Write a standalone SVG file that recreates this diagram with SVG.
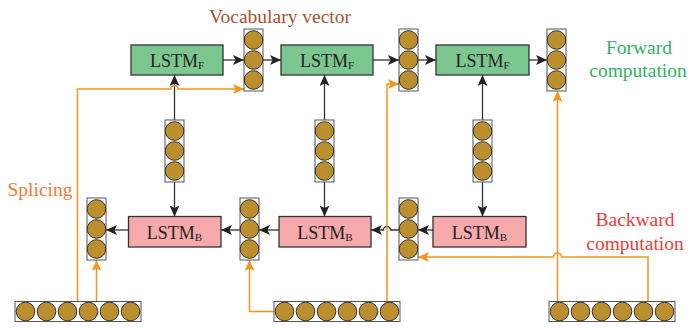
<svg xmlns="http://www.w3.org/2000/svg" width="688" height="329" viewBox="0 0 688 329">
  <style>
    .fwd { fill: #7cc68f; stroke: #333; stroke-width: 1.3; }
    .bwd { fill: #f5a9ab; stroke: #333; stroke-width: 1.3; }
    .vec { fill: #fff; stroke: #555; stroke-width: 1; }
    .dot { fill: #bb8e2e; stroke: #333; stroke-width: 1; }
    text { font-family: 'Liberation Serif', 'DejaVu Serif', serif; }
    .lbl { font-size: 18px; fill: #222; text-anchor: middle; }
    .sub { font-size: 11px; }
    .cap { font-size: 19.5px; text-anchor: middle; }
    .blk { fill: none; stroke: #333; stroke-width: 1.3; marker-end: url(#ab); }
    .org { fill: none; stroke: #f7941d; stroke-width: 1.5; }
    .orgA { marker-end: url(#ao); }
  </style>
  <defs>
    <marker id="ab" markerUnits="userSpaceOnUse" markerWidth="11" markerHeight="10" viewBox="0 0 11 10" refX="11" refY="5" orient="auto">
      <path d="M0,0 L11,5 L0,10 L2.5,5 z" fill="#222"/>
    </marker>
    <marker id="ao" markerUnits="userSpaceOnUse" markerWidth="11" markerHeight="10" viewBox="0 0 11 10" refX="11" refY="5" orient="auto">
      <path d="M0,0 L11,5 L0,10 L2.5,5 z" fill="#f7941d"/>
    </marker>
    <!-- three-cell vertical vector -->
    <g id="v3">
      <rect class="vec" x="0" y="0" width="19" height="62"/>
      <circle class="dot" cx="9.5" cy="11" r="9.3"/>
      <circle class="dot" cx="9.5" cy="31" r="9.3"/>
      <circle class="dot" cx="9.5" cy="51" r="9.3"/>
    </g>
    <!-- six-cell horizontal word vector -->
    <g id="h6">
      <rect class="vec" x="0" y="0" width="126" height="20"/>
      <circle class="dot" cx="10.5" cy="10" r="9.3"/>
      <circle class="dot" cx="31.5" cy="10" r="9.3"/>
      <circle class="dot" cx="52.5" cy="10" r="9.3"/>
      <circle class="dot" cx="73.5" cy="10" r="9.3"/>
      <circle class="dot" cx="94.5" cy="10" r="9.3"/>
      <circle class="dot" cx="115.5" cy="10" r="9.3"/>
    </g>
  </defs>

  <rect width="688" height="329" fill="#fff"/>

  <!-- connectors -->
  <g id="connectors">
    <!-- forward chain -->
    <path class="blk" d="M223,60 H244"/>
    <path class="blk" d="M263,60 H281"/>
    <path class="blk" d="M373,60 H399"/>
    <path class="blk" d="M418,60 H436"/>
    <path class="blk" d="M529,60 H547"/>
    <!-- middle vectors to forward / backward cells -->
    <path class="blk" d="M174.5,120 V75"/>
    <path class="blk" d="M174.5,182 V216.5"/>
    <path class="blk" d="M324.5,120 V75"/>
    <path class="blk" d="M324.5,182 V216.5"/>
    <path class="blk" d="M482.5,120 V75"/>
    <path class="blk" d="M482.5,182 V216.5"/>
    <!-- backward chain -->
    <path class="blk" d="M433,230 H418"/>
    <path class="blk" d="M399,230 H390.5 A3.5,3.5 0 0 0 383.5,230 H371"/>
    <path class="blk" d="M279,230 H259"/>
    <path class="blk" d="M240,230 H221"/>
    <path class="blk" d="M128.5,230 H106"/>
    <!-- splicing paths from word vectors -->
    <path class="org orgA" d="M77.5,302 V89 H171 A3.5,3.5 0 0 1 178,89 H244"/>
    <path class="org orgA" d="M96.5,302 V260"/>
    <path class="org orgA" d="M274,311.5 H249.5 V260"/>
    <path class="org orgA" d="M387,302 V84 H399"/>
    <path class="org orgA" d="M557.5,302 V91"/>
    <path class="org orgA" d="M648,302 V257 H561.5 A4,4 0 0 0 553.5,257 H418"/>
  </g>

  <!-- forward LSTM cells -->
  <g id="lstm-f1">
    <rect class="fwd" x="131" y="45" width="92" height="30"/>
    <text class="lbl" x="177" y="67">LSTM<tspan class="sub" dy="2">F</tspan></text>
  </g>
  <g id="lstm-f2">
    <rect class="fwd" x="281" y="45" width="92" height="30"/>
    <text class="lbl" x="327" y="67">LSTM<tspan class="sub" dy="2">F</tspan></text>
  </g>
  <g id="lstm-f3">
    <rect class="fwd" x="436" y="45" width="93" height="30"/>
    <text class="lbl" x="482.5" y="67">LSTM<tspan class="sub" dy="2">F</tspan></text>
  </g>

  <!-- forward output vectors -->
  <g id="vec-f1"><use href="#v3" x="244" y="29"/></g>
  <g id="vec-f2"><use href="#v3" x="399" y="29"/></g>
  <g id="vec-f3"><use href="#v3" x="547" y="29"/></g>

  <!-- hidden vectors between directions -->
  <g id="vec-m1"><use href="#v3" x="165" y="120"/></g>
  <g id="vec-m2"><use href="#v3" x="315" y="120"/></g>
  <g id="vec-m3"><use href="#v3" x="473" y="120"/></g>

  <!-- backward LSTM cells -->
  <g id="lstm-b1">
    <rect class="bwd" x="128.5" y="216.5" width="92.5" height="30.5"/>
    <text class="lbl" x="174.5" y="238.5">LSTM<tspan class="sub" dy="2">B</tspan></text>
  </g>
  <g id="lstm-b2">
    <rect class="bwd" x="279" y="216.5" width="92" height="30.5"/>
    <text class="lbl" x="325" y="238.5">LSTM<tspan class="sub" dy="2">B</tspan></text>
  </g>
  <g id="lstm-b3">
    <rect class="bwd" x="433" y="216.5" width="93" height="30.5"/>
    <text class="lbl" x="479.5" y="238.5">LSTM<tspan class="sub" dy="2">B</tspan></text>
  </g>

  <!-- backward output vectors -->
  <g id="vec-b1"><use href="#v3" x="87" y="198"/></g>
  <g id="vec-b2"><use href="#v3" x="240" y="198"/></g>
  <g id="vec-b3"><use href="#v3" x="399" y="198"/></g>

  <!-- word input vectors -->
  <g id="word-1"><use href="#h6" x="15" y="301.5"/></g>
  <g id="word-2"><use href="#h6" x="274" y="301.5"/></g>
  <g id="word-3"><use href="#h6" x="549" y="301.5"/></g>

  <!-- captions -->
  <g id="captions">
    <text class="cap" x="280" y="22.5" fill="#a3552f">Vocabulary vector</text>
    <text class="cap" x="639" y="54" fill="#2fb35e">Forward</text>
    <text class="cap" x="638" y="77" fill="#2fb35e">computation</text>
    <text class="cap" x="40" y="196" fill="#f07c3c">Splicing</text>
    <text class="cap" x="635" y="226" fill="#ee3d35">Backward</text>
    <text class="cap" x="635" y="250" fill="#ee3d35">computation</text>
  </g>
</svg>
